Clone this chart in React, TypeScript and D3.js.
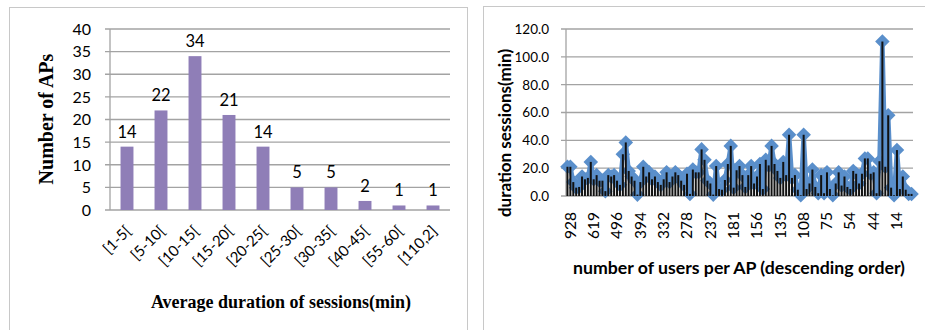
import { useEffect, useRef } from "react"
import * as d3 from "d3"

// left chart: histogram of average session duration
const durationBins = ["[1-5[", "[5-10[", "[10-15[", "[15-20[", "[20-25[", "[25-30[", "[30-35[", "[40-45[", "[55-60[", "[110,2]"]
const apCounts = [14, 22, 34, 21, 14, 5, 5, 2, 1, 1]
const countTicks = [0, 5, 10, 15, 20, 25, 30, 35, 40]

// right chart: session duration per AP, APs sorted by number of users
const userTickLabels = ["928", "619", "496", "394", "332", "278", "237", "181", "156", "135", "108", "75", "54", "44", "14"]
const userTickEvery = 8
const sessionDurations = [
  21, 21, 10, 6, 6.5, 14, 12, 13, 24.5, 12,
  15, 11, 11, 3.5, 15, 14, 15, 11, 8, 30,
  38.5, 18, 14, 11, 1, 10, 21, 14, 17, 12,
  14, 10, 8, 12, 17, 10, 14, 17, 15, 11,
  8, 16, 1.5, 19, 17, 17, 33.5, 26, 11, 9,
  1, 21.5, 5, 4.5, 11.5, 23, 36, 6, 18.5, 21.5,
  15, 6.5, 15, 21.5, 9, 14, 23, 5, 26, 22,
  36, 23, 18, 13, 24.5, 15, 44, 13, 15, 4.5,
  0.5, 44, 5, 9, 19, 6.5, 2, 15, 2, 17,
  5, 0.5, 9, 17, 7.5, 14, 6.5, 5, 18, 16,
  9, 16, 27, 27, 16, 17, 2, 25, 111, 21,
  58, 6, 0.5, 33, 5, 14, 4.5, 1.5, 1.5,
]
const durationTicks = [0, 20, 40, 60, 80, 100, 120]

const sans = "Lato, 'Open Sans', sans-serif"
const serif = "'Liberation Serif', 'Times New Roman', serif"
const gridColor = "#A3A3A3"
const blue = "#5A8FCB"

export default function App() {
  const svgRef = useRef<SVGSVGElement>(null)

  useEffect(() => {
    if (!svgRef.current) return
    const svg = d3.select(svgRef.current)
    svg.selectAll("*").remove()

    // panel frames
    svg.append("rect").attr("x", 9.5).attr("y", 7.5).attr("width", 458).attr("height", 340)
      .attr("fill", "none").attr("stroke", "#C8C8C8")
    svg.append("rect").attr("x", 483.5).attr("y", 6.5).attr("width", 470).attr("height", 340)
      .attr("fill", "none").attr("stroke", "#C8C8C8")

    // ---------- left: bar chart ----------
    const L = { left: 110, right: 450, top: 29, bottom: 210 }
    const xL = d3.scaleBand<string>().domain(durationBins).range([L.left, L.right]).paddingInner(0.62).paddingOuter(0.31)
    const yL = d3.scaleLinear().domain([0, 40]).range([L.bottom, L.top])
    const gl = svg.append("g")

    gl.selectAll(".grid").data(countTicks).join("line")
      .attr("x1", L.left - 5).attr("x2", L.right)
      .attr("y1", (d) => yL(d)).attr("y2", (d) => yL(d))
      .attr("stroke", gridColor).attr("stroke-width", 1.3)
    gl.append("line").attr("x1", L.left).attr("x2", L.left).attr("y1", L.top).attr("y2", L.bottom)
      .attr("stroke", gridColor).attr("stroke-width", 1.3)

    gl.selectAll(".ylab").data(countTicks).join("text")
      .attr("x", 91).attr("y", (d) => yL(d)).attr("dy", "0.36em")
      .attr("text-anchor", "end").attr("font-family", sans).attr("font-size", 16).attr("fill", "#000")
      .text((d) => d)

    gl.selectAll(".bar").data(durationBins).join("rect")
      .attr("x", (d) => xL(d) || 0)
      .attr("y", (d, i) => yL(apCounts[i]))
      .attr("width", xL.bandwidth())
      .attr("height", (d, i) => L.bottom - yL(apCounts[i]))
      .attr("fill", "#8F7EB7")

    gl.selectAll(".vlab").data(durationBins).join("text")
      .attr("x", (d) => (xL(d) || 0) + xL.bandwidth() / 2)
      .attr("y", (d, i) => yL(apCounts[i]) - 9)
      .attr("text-anchor", "middle").attr("font-family", sans).attr("font-size", 16.5).attr("fill", "#000")
      .text((d, i) => apCounts[i])

    gl.selectAll(".xlab").data(durationBins).join("text")
      .attr("transform", (d) => `translate(${(xL(d) || 0) + xL.bandwidth() / 2 + 5}, 232) rotate(-45)`)
      .attr("text-anchor", "end").attr("font-family", sans).attr("font-size", 15).attr("fill", "#000")
      .text((d) => d)

    gl.append("text").attr("x", 281).attr("y", 308).attr("text-anchor", "middle")
      .attr("font-family", serif).attr("font-weight", "bold").attr("font-size", 18)
      .text("Average duration of sessions(min)")
    gl.append("text").attr("transform", "translate(53, 119) rotate(-90)").attr("text-anchor", "middle")
      .attr("font-family", serif).attr("font-weight", "bold").attr("font-size", 20)
      .text("Number of APs")

    // ---------- right: line + bars ----------
    const R = { left: 566, right: 913, top: 29, bottom: 196 }
    const idx = d3.range(sessionDurations.length)
    const xR = d3.scaleBand<number>().domain(idx).range([R.left, R.right])
    const yR = d3.scaleLinear().domain([0, 120]).range([R.bottom, R.top])
    const cx = (i: number) => (xR(i) || 0) + xR.bandwidth() / 2
    const gr = svg.append("g")

    gr.selectAll(".grid").data(durationTicks).join("line")
      .attr("x1", R.left - 5).attr("x2", R.right)
      .attr("y1", (d) => yR(d)).attr("y2", (d) => yR(d))
      .attr("stroke", gridColor).attr("stroke-width", 1.3)
    gr.append("line").attr("x1", R.left).attr("x2", R.left).attr("y1", R.top).attr("y2", R.bottom)
      .attr("stroke", gridColor).attr("stroke-width", 1.3)

    gr.selectAll(".ylab").data(durationTicks).join("text")
      .attr("x", 549).attr("y", (d) => yR(d)).attr("dy", "0.36em")
      .attr("text-anchor", "end").attr("font-family", sans).attr("font-size", 13.5).attr("fill", "#000")
      .text((d) => d3.format(".1f")(d))

    const line = d3.line<number>().x((d, i) => cx(i)).y((d) => yR(d))
    gr.append("path").datum(sessionDurations).attr("d", line)
      .attr("fill", "none").attr("stroke", blue).attr("stroke-width", 4.5).attr("stroke-linejoin", "round")

    const diamond = d3.symbol().type(d3.symbolDiamond2).size(135)
    gr.selectAll(".mark").data(sessionDurations).join("path")
      .attr("d", diamond)
      .attr("transform", (d, i) => `translate(${cx(i)}, ${yR(d)})`)
      .attr("fill", blue)

    gr.selectAll(".bar").data(sessionDurations).join("rect")
      .attr("x", (d, i) => cx(i) - 1)
      .attr("y", (d) => yR(d))
      .attr("width", 2)
      .attr("height", (d) => R.bottom - yR(d))
      .attr("fill", "#111")

    gr.selectAll(".xlab").data(userTickLabels).join("text")
      .attr("transform", (d, k) => `translate(${cx(k * userTickEvery) + 2.5}, 212) rotate(-90)`)
      .attr("dy", "0.36em")
      .attr("text-anchor", "end").attr("font-family", sans).attr("font-size", 15.5).attr("fill", "#000")
      .text((d) => d)

    gr.append("text").attr("x", 739).attr("y", 274).attr("text-anchor", "middle")
      .attr("font-family", sans).attr("font-weight", "bold").attr("font-size", 17.7)
      .text("number of users per AP (descending order)")
    gr.append("text").attr("transform", "translate(511, 133) rotate(-90)").attr("text-anchor", "middle")
      .attr("font-family", sans).attr("font-weight", "bold").attr("font-size", 17)
      .text("duration sessions(min)")
  }, [])

  return (
    <svg ref={svgRef} width={925} height={330} style={{ position: "absolute", left: 0, top: 0, background: "#fff" }} />
  )
}
